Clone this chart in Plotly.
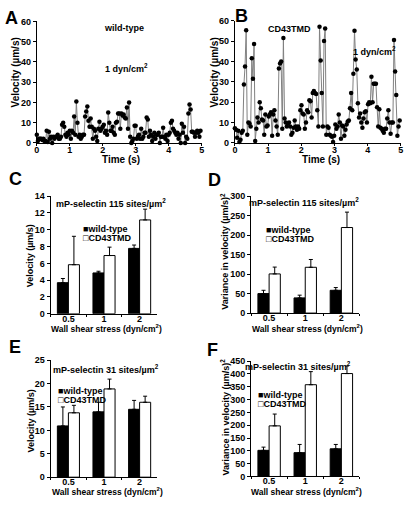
import plotly.graph_objects as go

W, H = 413, 506
FONT = "Liberation Sans, Arial, Helvetica, sans-serif"

# ---------------- data ----------------
wt_frame_interval = 0.0333   # s between samples, panel A
cd43_frame_interval = 0.034  # s between samples, panel B

wt_velocity = [4, 1, 2, 2, 2, 1.5, 2, 1, 1, 6, 0.5, 5.5, 2, 3, 0, 3, 2, 3, 3, 4, 2, 2, 3, 9, 10, 8, 4, 3, 5, 4,
               6, 2, 6, 5, 13, 4, 20.5, 10, 3, 4, 2, 3, 4, 4, 13, 15.5, 18, 11, 8, 12, 8, 2, 7, 6, 3, 1, 7, 10.5, 6, 7,
               8, 9, 5, 6, 4, 15, 10, 6, 6, 8, 5, 4, 10, 10.5, 14.5, 14.5, 7, 14.5, 13.5, 14, 12.5, 12, 17.5, 7, 20, 3, 0, 1, 2, 8.5,
               8.5, 2, 3, 4, 2, 7, 2, 3, 5, 5, 12.5, 11.5, 3, 6, 4, 1, 3, 5, 2, 4, 4, 5, 0, 3, 3, 7.5, 3, 2, 4, 1,
               4, 5, 10, 11, 7, 6, 5, 4, 5, 2, 4, 0, 9.5, 5, 8, 0, 3, 2, 14.5, 19, 16.5, 5.5, 5.5, 5, 3, 5, 6, 5, 3, 6]

cd43_velocity = [7.2, 6.5, 2.5, 6, 0.5, 1.5, 5, 6, 28.7, 37.5, 55.3, 4, 10, 9.5, 8, 41.5, 31.5, 48.5, 1, 7, 12.5, 10, 20, 17,
                 11.5, 11, 4, 14, 8, 8.5, 13, 14, 15, 3.5, 14, 16, 11, 8, 4, 36.5, 39, 40, 7, 51.5, 12, 10, 8, 9.5,
                 10, 8, 4, 5, 7.5, 11, 8, 6.5, 8, 7, 16, 18.5, 14.5, 14, 7, 10, 16, 15, 21, 20.5, 12.5, 24.5, 25.5, 24.5,
                 24, 16, 8, 57, 40.5, 24.5, 8, 50, 56.2, 4, 8, 7.5, 4, 3.5, 3, 0.5, 3.5, 9, 7, 8, 14, 10, 2, 8.5,
                 8, 3.5, 6.5, 9, 10.5, 11, 17, 24.5, 16, 34, 55, 41, 36, 19.5, 12.5, 14.5, 10, 7.5, 12, 15, 15.5, 10,
                 19, 20, 19.5, 32.5, 20, 29, 29, 29, 17.5, 8, 16.5, 7.5, 7, 6, 5, 7, 7, 12, 16, 10, 4.5, 10, 10, 50.5,
                 35, 23.5, 3.5, 8, 11]

shear_labels = ["0.5", "1", "2"]

# Panel C: velocity, 115 sites/um2
c_wt = [3.7, 4.86, 7.78]
c_wt_err = [0.5, 0.2, 0.4]
c_cd = [5.84, 6.93, 11.17]
c_cd_err = [3.38, 1.0, 1.28]
# Panel D: variance, 115 sites/um2
d_wt = [50, 39, 58.5]
d_wt_err = [8.5, 7, 7]
d_cd = [100.5, 117.5, 219.5]
d_cd_err = [17.5, 20, 39.5]
# Panel E: velocity, 31 sites/um2
e_wt = [10.95, 13.95, 14.5]
e_wt_err = [4.05, 2.05, 1.9]
e_cd = [13.75, 18.85, 16.0]
e_cd_err = [1.6, 2.1, 1.3]
# Panel F: variance, 31 sites/um2
f_wt = [102, 93, 108]
f_wt_err = [12.5, 32, 17]
f_cd = [197.5, 358, 401.5]
f_cd_err = [46, 51, 29.5]


def px(x):
    return x / W


def py(y):
    return 1 - y / H


fig = go.Figure()

# ---------------- time series ----------------
for vals, dx, ax in [(wt_velocity, wt_frame_interval, "1"), (cd43_velocity, cd43_frame_interval, "2")]:
    fig.add_trace(go.Scatter(
        y=vals, x0=0, dx=dx, mode="lines+markers",
        line=dict(color="#808080", width=1),
        marker=dict(color="black", size=4.5),
        xaxis="x" + ax, yaxis="y" + ax, showlegend=False, cliponaxis=False))

# ---------------- bar panels ----------------
bar_panels = [
    ("3", c_wt, c_wt_err, c_cd, c_cd_err),
    ("4", d_wt, d_wt_err, d_cd, d_cd_err),
    ("5", e_wt, e_wt_err, e_cd, e_cd_err),
    ("6", f_wt, f_wt_err, f_cd, f_cd_err),
]
for ax, wt, wte, cd, cde in bar_panels:
    fig.add_trace(go.Bar(
        x=shear_labels, y=wt, name="wild-type",
        marker=dict(color="black", line=dict(color="black", width=1)),
        error_y=dict(type="data", array=wte, arrayminus=[0] * 3, symmetric=False,
                     color="black", thickness=1, width=2),
        xaxis="x" + ax, yaxis="y" + ax, showlegend=False))
    fig.add_trace(go.Bar(
        x=shear_labels, y=cd, name="CD43TMD",
        marker=dict(color="white", line=dict(color="black", width=1)),
        error_y=dict(type="data", array=cde, arrayminus=[0] * 3, symmetric=False,
                     color="black", thickness=1, width=2),
        xaxis="x" + ax, yaxis="y" + ax, showlegend=False))

tickfont = dict(family=FONT, size=9, color="black", weight="bold")
axis_common = dict(showline=True, linecolor="black", linewidth=1, ticks="outside",
                   tickcolor="black", tickfont=tickfont, showgrid=False,
                   zeroline=False, fixedrange=True)
xaxis_style = dict(ticklen=2, ticklabelstandoff=-4, **axis_common)
yaxis_style = dict(ticklen=3, **axis_common)

layout_axes = {}
# A
layout_axes["xaxis"] = dict(domain=[px(34.3), px(201.7)], range=[0, 5], dtick=1, anchor="y", **xaxis_style)
layout_axes["yaxis"] = dict(domain=[py(140.7), py(16.7)], range=[0, 60], dtick=10, anchor="x", **yaxis_style)
# B
layout_axes["xaxis2"] = dict(domain=[px(235.3), px(403.7)], range=[0, 5], dtick=1, anchor="y2", **xaxis_style)
layout_axes["yaxis2"] = dict(domain=[py(140.7), py(16)], range=[0, 60], dtick=10, anchor="x2", **yaxis_style)

bar_geom = [
    ("3", (48.3, 156.7), (315, 195), [0, 14], 2),
    ("4", (251.7, 361.7), (314.3, 195), [0, 300], 50),
    ("5", (48.3, 156.7), (481.7, 362.3), [0, 25], 5),
    ("6", (251.7, 361.7), (481, 363.3), [0, 450], 50),
]
for ax, (x0, x1), (yb, yt), yr, dt in bar_geom:
    layout_axes["xaxis" + ax] = dict(domain=[px(x0), px(x1)], range=[-0.5, 2.5], type="category",
                                     tickson="boundaries", anchor="y" + ax, **xaxis_style)
    layout_axes["yaxis" + ax] = dict(domain=[py(yb), py(yt)], range=yr, dtick=dt, anchor="x" + ax,
                                     **yaxis_style)

# ---------------- text ----------------
annotations = []


def label(text, x, y, size=9, angle=0, xanchor="center"):
    annotations.append(dict(text=text, x=px(x), y=py(y), xref="paper", yref="paper",
                            xanchor=xanchor, yanchor="middle", showarrow=False, textangle=angle,
                            font=dict(family=FONT, size=size, color="black", weight="bold")))


# panel letters
for t, x, y in [("A", 9, 13), ("B", 242.5, 11), ("C", 12.5, 177.5), ("D", 215, 179),
                ("E", 12, 349), ("F", 212.5, 352)]:
    label(t, x, y, size=18)

# A
label("wild-type", 123, 23)
label("1 dyn/cm<sup>2</sup>", 125, 64)
label("Velocity (µm/s)", 13, 69, size=10, angle=-90)
label("Time (s)", 120, 158, size=10)
# B
label("CD43TMD", 290.5, 24)
label("1 dyn/cm<sup>2</sup>", 377, 47)
label("Velocity (µm/s)", 215, 69, size=10, angle=-90)
label("Time (s)", 323, 157.5, size=10)

# bar panels
panel_text = [
    ("mP-selectin 115 sites/µm<sup>2</sup>", (110, 202), 79, 228.3, 237.7,
     "Velocity (µm/s)", (28.3, 255.5), (105, 330)),
    ("mP-selectin 115 sites/µm<sup>2</sup>", (305.5, 201), 265, 229.3, 239,
     "Variance in velocity (µm/s)<sup>2</sup>", (225, 251), (309, 330)),
    ("mP-selectin 31 sites/µm<sup>2</sup>", (105, 371), 53.5, 394, 403.3,
     "Velocity (µm/s)", (28.3, 424), (106, 496)),
    ("mP-selectin 31 sites/µm<sup>2</sup>", (299, 368.5), 256.5, 398.3, 407.3,
     "Variance in velocity (µm/s)<sup>2</sup>", (225, 420), (308, 496)),
]
for title, tp, lx, ly1, ly2, yt, ytp, xtp in panel_text:
    label(title, *tp)
    label("■wild-type", lx, ly1, xanchor="left")
    label("□CD43TMD", lx, ly2, xanchor="left")
    label(yt, *ytp, angle=-90)
    label("Wall shear stress (dyn/cm<sup>2</sup>)", *xtp, size=8.5)

fig.update_layout(
    width=W, height=H, margin=dict(l=0, r=0, t=0, b=0),
    paper_bgcolor="white", plot_bgcolor="white",
    barmode="group", bargap=0.38, bargroupgap=0,
    annotations=annotations, showlegend=False,
    font=dict(family=FONT, size=9, color="black"),
    **layout_axes)

fig.write_html("out.html", config={"displayModeBar": False, "staticPlot": True},
               post_script="document.body.style.margin='0px';document.body.style.overflow='hidden';")
